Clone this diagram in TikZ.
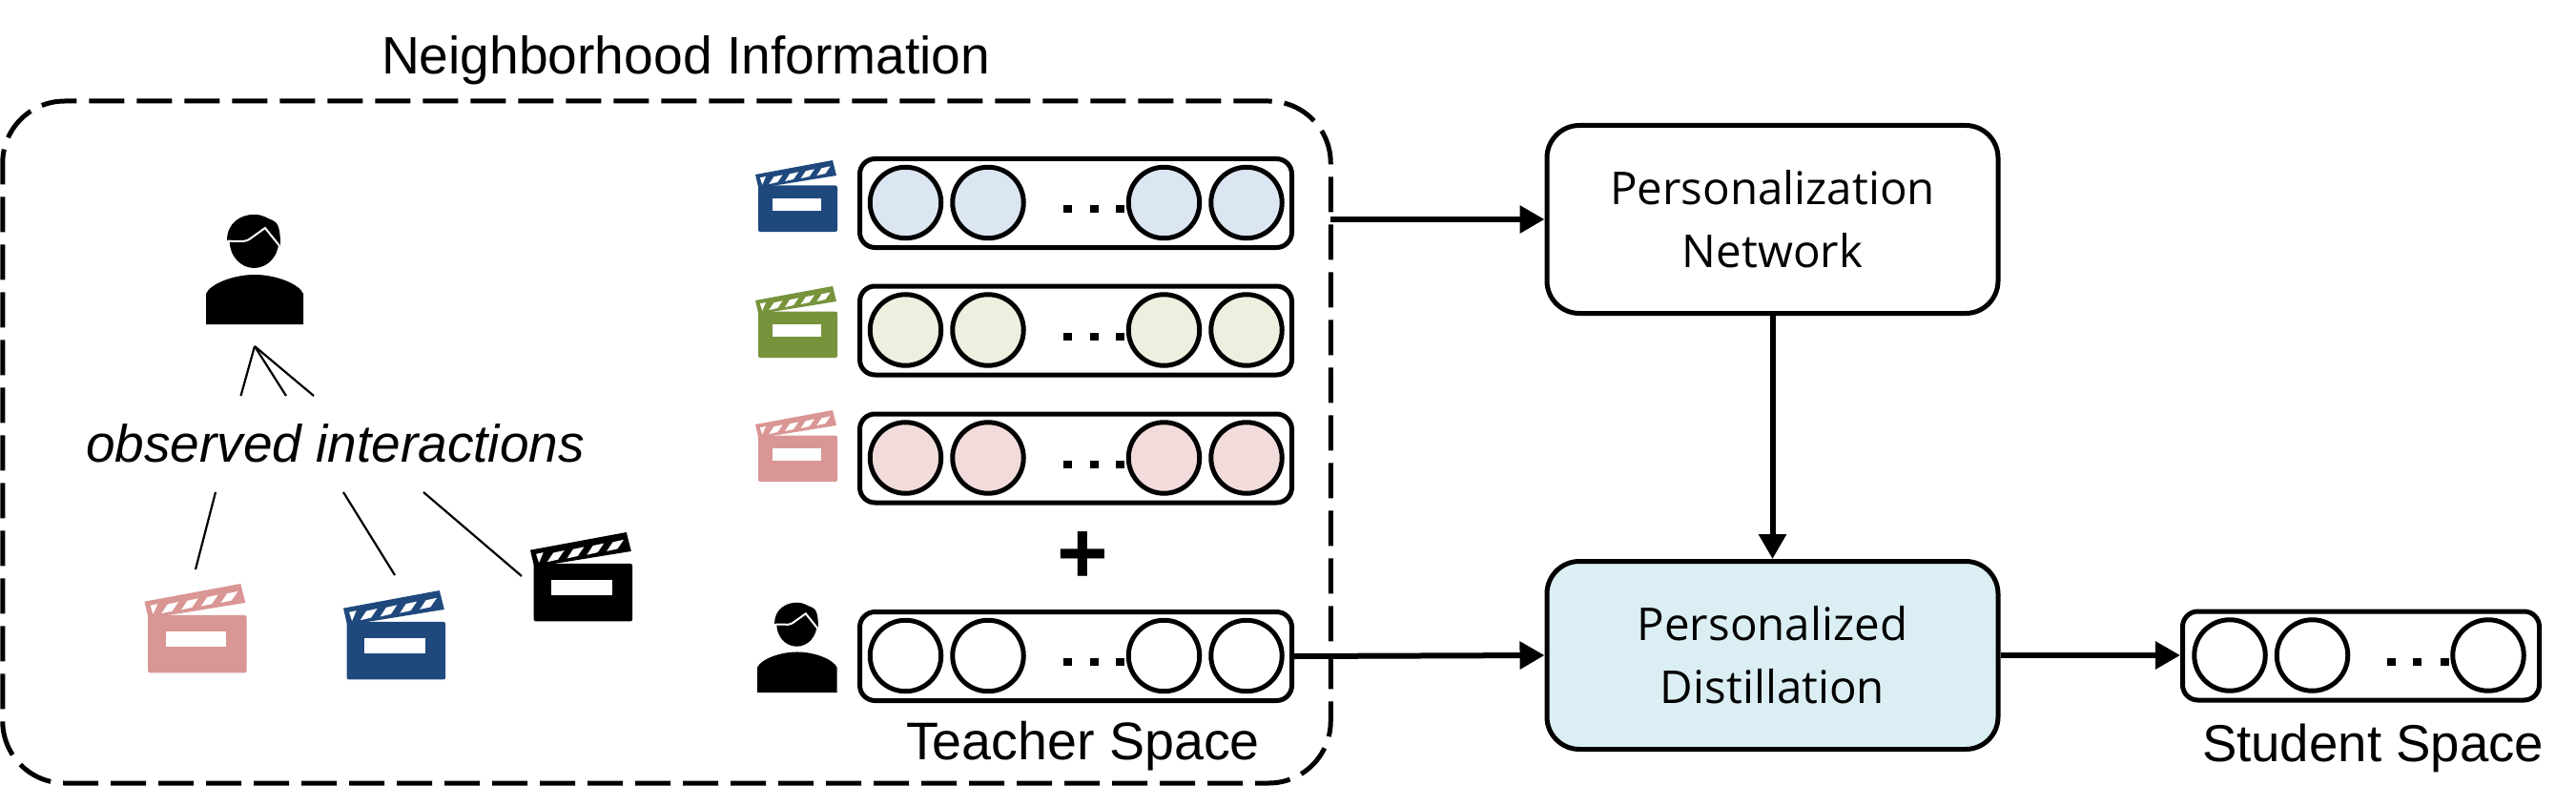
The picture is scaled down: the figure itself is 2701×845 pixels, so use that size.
\documentclass[tikz,border=0pt]{standalone}
\usepackage{fontspec}
\setmainfont{Liberation Sans}
\newfontfamily\boxfont{Open Sans}
\usetikzlibrary{arrows.meta,calc}
\definecolor{iconblue}{HTML}{1F497D}
\definecolor{icongreen}{HTML}{77933C}
\definecolor{iconpink}{HTML}{D99694}
\definecolor{fillblue}{HTML}{DCE6F2}
\definecolor{fillgreen}{HTML}{EBF1DE}
\definecolor{fillpink}{HTML}{F2DCDB}
\definecolor{filldist}{HTML}{DAEEF3}
\tikzset{
  x=1pt,y=-1pt,
  label text/.style={inner sep=0,outer sep=0,font=\fontsize{55.2}{60}\selectfont},
  vecbox/.style={draw,line width=5,rounded corners=16,minimum height=93,inner sep=0,outer sep=2.5},
  emb/.style={circle,draw,line width=5,minimum size=74.5,inner sep=0,outer sep=2.5},
  dotsq/.style={fill=black,minimum width=9,minimum height=8,inner sep=0,outer sep=0},
  procbox/.style={draw,line width=5,rounded corners=34,minimum width=473,minimum height=197,inner sep=0,outer sep=2.5,align=center,font=\boxfont\fontsize{47.5}{66}\selectfont},
  flow/.style={line width=6,-{Triangle[length=26,width=28]}},
  thin link/.style={line width=2.2},
  pics/clap/.style={code={
    \fill[#1,rounded corners=2] (3,26.5) -- (86,26.5) -- (86,75) -- (3,75) -- cycle;
    \fill[#1] (0,15) -- (81,0) -- (85,16) -- (17,27) -- (3,28) -- cycle;
    \fill[white] (18,40) rectangle (69,53);
    \fill[white] (4.9,18.3) -- (11,17) -- (7.3,25.7) -- cycle;
    \foreach \k in {0,1,2,3}{
      \fill[white] (14.3+16.7*\k,25-3*\k) -- (19.4+16.7*\k,17.3-3*\k) -- (28.6+16.7*\k,15.3-3*\k) -- (23.3+16.7*\k,23-3*\k) -- cycle;
    }
  }},
  pics/person/.style={code={
    \fill (0,116) -- (0,84) .. controls (4,74) and (28,64) .. (51,64) .. controls (74,64) and (98,74) .. (102,84) -- (102,116) -- cycle;
    \fill (50.5,29) ellipse[x radius=25.7,y radius=28];
    \fill (22,28) .. controls (22,10) and (36,1) .. (50,1) .. controls (60,1) and (64,5) .. (70,7) .. controls (76,9) and (78,18) .. (78,33) -- (50,33) -- cycle;
    \draw[white,line width=2] (23,28.7) -- (39,29) .. controls (44,28) and (46,27) .. (48,25) -- (62,15) -- (77,33.7);
  }},
}
\begin{document}
\begin{tikzpicture}
\useasboundingbox (0,0) rectangle (2701,845);
\fill[white] (0,0) rectangle (2701,845);

% dashed neighbourhood frame
\node[draw,line width=5,rounded corners=65,dash pattern=on 37 off 13,minimum width=1392.5,minimum height=715,inner sep=0,outer sep=0] (frame) at (699,463.5) {};
\node[label text,anchor=base west] (title) at (400,78) {Neighborhood Information};

% teacher vectors
\foreach \n/\cy/\col in {a/213/fillblue,b/346.5/fillgreen,c/480.5/fillpink,u/688/white}{
  \node[vecbox,minimum width=453] (box\n) at (1128,\cy) {};
  \node[emb,fill=\col] (\n1) at (949.5,\cy-0.5) {};
  \node[emb,fill=\col] (\n2) at (1036,\cy-0.5) {};
  \node[emb,fill=\col] (\n3) at (1220.5,\cy-0.5) {};
  \node[emb,fill=\col] (\n4) at (1307,\cy-0.5) {};
  \node[dotsq] (\n d1) at (1119,\cy+6) {};
  \node[dotsq] (\n d2) at (1147,\cy+6) {};
  \node[dotsq] (\n d3) at (1174.5,\cy+6) {};
}
\pic (clapa) at (792,168) {clap=iconblue};
\pic (clapb) at (792,300) {clap=icongreen};
\pic (clapc) at (792,430) {clap=iconpink};
\pic[scale=0.82] (useru) at (794,631) {person};
\node[inner sep=0,outer sep=0,font=\bfseries\fontsize{92}{100}\selectfont] (plus) at (1135.5,585) {+};
\node[label text,anchor=base west,font=\fontsize{55.6}{60}\selectfont] (teacher) at (950,796) {Teacher Space};

% neighbourhood
\pic[scale=1.0] (userl) at (216,224) {person};
\node[label text,anchor=base west,font=\itshape\fontsize{55}{60}\selectfont] (obs) at (90,484) {observed interactions};
\pic[scale=1.245] (clapp) at (151.5,612) {clap=iconpink};
\pic[scale=1.245] (claps) at (360,619) {clap=iconblue};
\pic[scale=1.245] (clapk) at (556,558) {clap=black};

\coordinate (apex) at (267,363);
\coordinate (up1) at (252.5,415);
\coordinate (up2) at (300,415);
\coordinate (up3) at (329,415);
\coordinate (lo1a) at (226,516);
\coordinate (lo1b) at (205,597);
\coordinate (lo2a) at (360,516);
\coordinate (lo2b) at (414,603);
\coordinate (lo3a) at (444,516);
\coordinate (lo3b) at (547,604);
\draw[thin link] (apex) -- (up1);
\draw[thin link] (apex) -- (up2);
\draw[thin link] (apex) -- (up3);
\draw[thin link] (lo1a) -- (lo1b);
\draw[thin link] (lo2a) -- (lo2b);
\draw[thin link] (lo3a) -- (lo3b);

% process boxes
\node[procbox] (pn) at (1858.5,230) {Personalization\\Network};
\node[procbox,fill=filldist] (pd) at (1858.5,687) {Personalized\\Distillation};

% student vector
\node[vecbox,minimum width=374] (boxs) at (2475.5,687.5) {};
\node[emb] (s1) at (2338,687) {};
\node[emb] (s2) at (2424.5,687) {};
\node[emb] (s3) at (2609,687) {};
\node[dotsq] (sd1) at (2507,694) {};
\node[dotsq] (sd2) at (2534.5,694) {};
\node[dotsq] (sd3) at (2563,694) {};
\node[label text,anchor=base west,font=\fontsize{54.6}{60}\selectfont] (student) at (2309,798) {Student Space};

% flows
\draw[flow] (frame.east |- pn.west) -- (pn.west);
\draw[flow] (boxu.east) -- (pd.west);
\draw[flow] (pn.south) -- (pd.north);
\draw[flow] (pd.east) -- (boxs.west |- pd.east);
\end{tikzpicture}
\end{document}
